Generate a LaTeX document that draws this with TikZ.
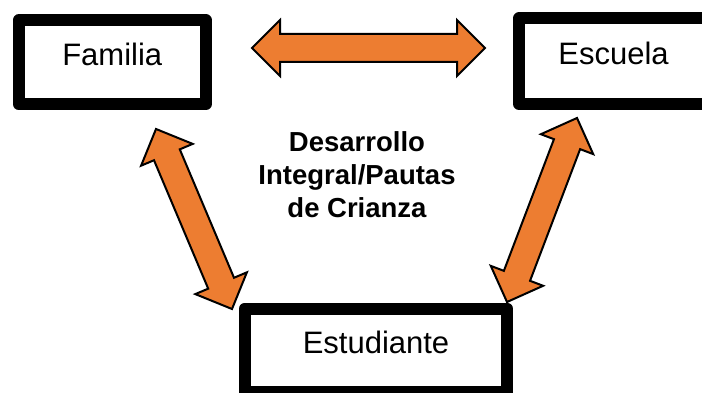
\documentclass[tikz,border=0pt]{standalone}
\usepackage{fontspec}
\setmainfont{Liberation Sans}
\usetikzlibrary{calc}
\definecolor{arrorange}{HTML}{ED7D31}
\newcommand{\blockarrow}[2]{%
  \coordinate (h1) at ($(#1)!28pt!(#2)$);
  \coordinate (h2) at ($(#2)!28pt!(#1)$);
  \draw[blockarr] (#1) -- ($(h1)!28pt!90:(#2)$) -- ($(h1)!14pt!90:(#2)$)
    -- ($(h2)!14pt!-90:(#1)$) -- ($(h2)!28pt!-90:(#1)$) -- (#2)
    -- ($(h2)!28pt!90:(#1)$) -- ($(h2)!14pt!90:(#1)$)
    -- ($(h1)!14pt!-90:(#2)$) -- ($(h1)!28pt!-90:(#2)$) -- cycle;}
\begin{document}
\begin{tikzpicture}[x=1pt,y=-1pt,
  box/.style={draw=black,line width=12pt,line join=round,fill=white,
    font=\fontsize{31}{36}\selectfont,text height=14pt,text depth=8pt,
    inner sep=0pt},
  blockarr/.style={draw=black,line width=2pt,fill=arrorange,line join=miter},
  centertext/.style={font=\bfseries\fontsize{27.5}{33}\selectfont,align=center}]
\useasboundingbox (0,0) rectangle (702,393);
\begin{scope}
\clip (0,0) rectangle (702,393);
\node[box,minimum width=187.5pt,minimum height=83.5pt] (fam) at (112.25,62.25) {Familia};
\node[box,minimum width=189pt,minimum height=85.5pt] (esc) at (613.5,61.25) {Escuela};
\node[box,minimum width=262.5pt,minimum height=83.5pt] (est) at (376,350.25) {Estudiante};
\end{scope}
\coordinate (a1) at (252,48);
\coordinate (a2) at (485,48);
\coordinate (b1) at (156,129);
\coordinate (b2) at (232,309);
\coordinate (c1) at (577,118);
\coordinate (c2) at (507,302);
\blockarrow{a1}{a2}
\blockarrow{b1}{b2}
\blockarrow{c1}{c2}
\node[centertext] (ctr) at (357,175) {Desarrollo\\Integral/Pautas\\de Crianza};
\end{tikzpicture}
\end{document}
